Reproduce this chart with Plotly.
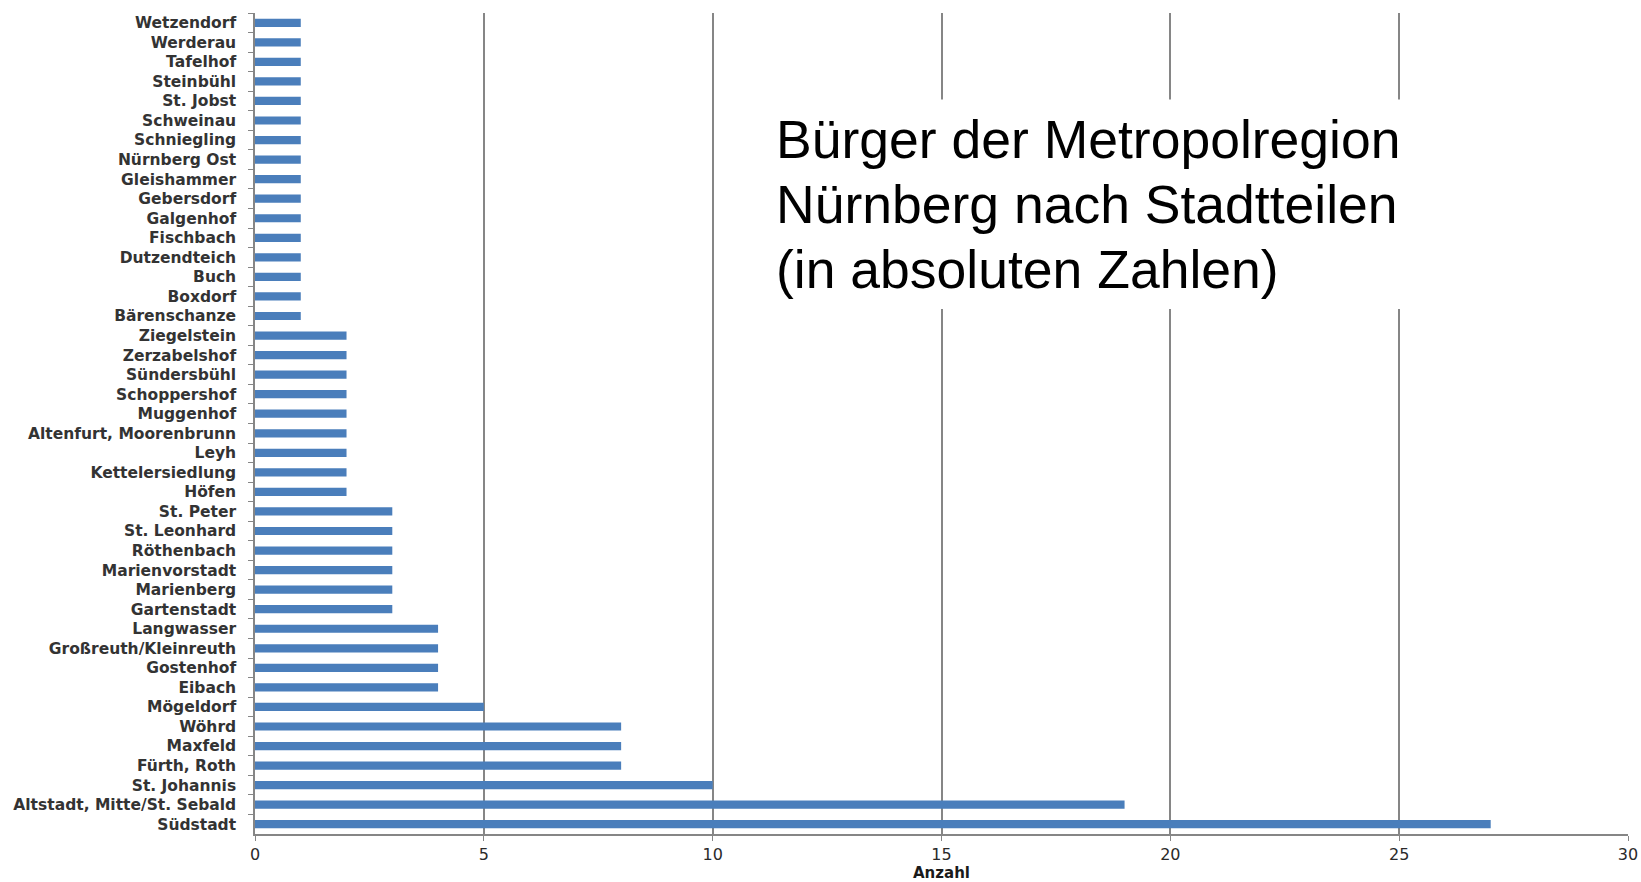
import plotly.graph_objects as go

districts = [
    "Wetzendorf", "Werderau", "Tafelhof", "Steinbühl", "St. Jobst", "Schweinau",
    "Schniegling", "Nürnberg Ost", "Gleishammer", "Gebersdorf", "Galgenhof",
    "Fischbach", "Dutzendteich", "Buch", "Boxdorf", "Bärenschanze",
    "Ziegelstein", "Zerzabelshof", "Sündersbühl", "Schoppershof", "Muggenhof",
    "Altenfurt, Moorenbrunn", "Leyh", "Kettelersiedlung", "Höfen",
    "St. Peter", "St. Leonhard", "Röthenbach", "Marienvorstadt", "Marienberg",
    "Gartenstadt", "Langwasser", "Großreuth/Kleinreuth", "Gostenhof", "Eibach",
    "Mögeldorf", "Wöhrd", "Maxfeld", "Fürth, Roth", "St. Johannis",
    "Altstadt, Mitte/St. Sebald", "Südstadt",
]
counts = [
    1, 1, 1, 1, 1, 1,
    1, 1, 1, 1, 1,
    1, 1, 1, 1, 1,
    2, 2, 2, 2, 2,
    2, 2, 2, 2,
    3, 3, 3, 3, 3,
    3, 4, 4, 4, 4,
    5, 8, 8, 8, 10,
    19, 27,
]
x_ticks = [0, 5, 10, 15, 20, 25, 30]
title_lines = ["Bürger der Metropolregion", "Nürnberg nach Stadtteilen", "(in absoluten Zahlen)"]
x_title = "Anzahl"

fig = go.Figure()
fig.add_trace(go.Bar(
    x=counts, y=districts, orientation="h",
    marker=dict(color="#4a7ebb", line=dict(width=0)),
    width=0.42,
))

fig.update_layout(
    width=1641, height=882,
    margin=dict(l=255, r=13, t=13, b=48, autoexpand=False),
    paper_bgcolor="white", plot_bgcolor="white",
    showlegend=False,
)
fig.update_xaxes(
    range=[0, 30], tickvals=x_ticks, ticktext=[str(v) for v in x_ticks],
    showgrid=True, gridcolor="#868686", gridwidth=1.5,
    showline=True, linecolor="#868686", linewidth=1.5,
    ticks="outside", ticklen=5, tickcolor="#868686",
    tickfont=dict(family="DejaVu Sans", size=16, color="#2a2a2a"),
    zeroline=False,
    title=dict(text="<b>" + x_title + "</b>", font=dict(family="DejaVu Sans", size=15, color="#1a1a1a"), standoff=1),
)
fig.update_yaxes(
    type="category", categoryorder="array", categoryarray=districts,
    autorange="reversed",
    showline=True, linecolor="#868686", linewidth=1.5,
    ticks="outside", ticklen=5, tickcolor="#868686", tickson="boundaries",
    tickfont=dict(family="DejaVu Sans", size=15.5, color="#333333", weight="bold"),
    ticklabelstandoff=14,
    showgrid=False,
)

fig.add_shape(type="rect", xref="x", yref="paper", x0=11.2, x1=27.5, y0=0.6395, y1=0.8947,
              fillcolor="white", line=dict(width=0), layer="above")
for line_text, ypos in zip(title_lines, [0.846, 0.767, 0.688]):
    fig.add_annotation(
        xref="x", yref="paper", x=11.35, y=ypos, xanchor="left", yanchor="middle",
        text=line_text, showarrow=False, align="left",
        font=dict(family="Liberation Sans", size=53.5, color="black"),
    )

fig.write_html("out.html", config={"displayModeBar": False},
               post_script="document.body.style.margin='0';")
